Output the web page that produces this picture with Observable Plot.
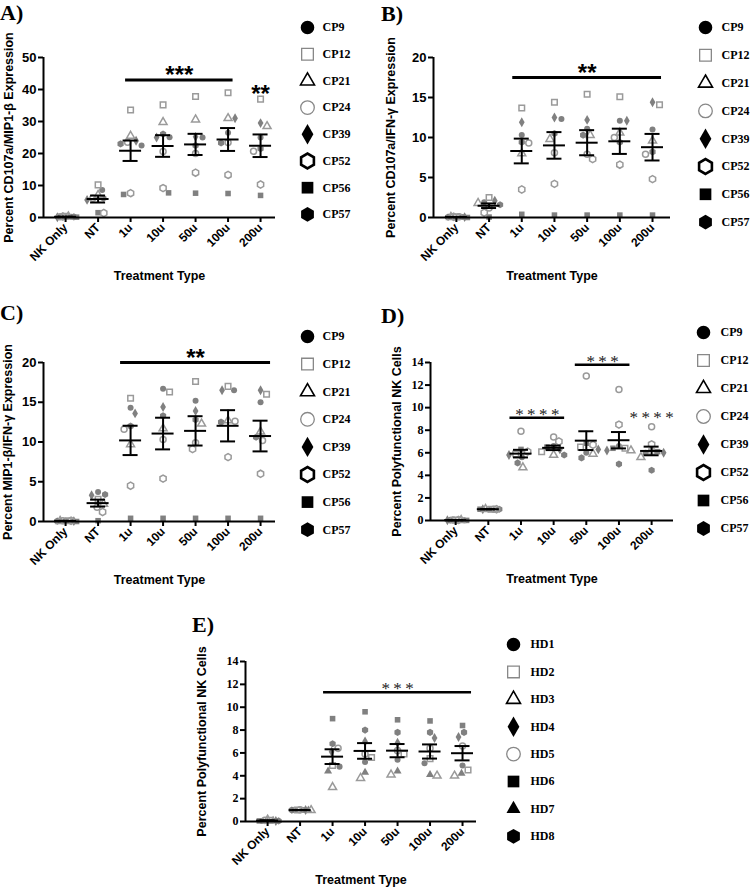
<!DOCTYPE html>
<html><head><meta charset="utf-8">
<script src="https://cdn.jsdelivr.net/npm/d3@7"></script>
<script src="https://cdn.jsdelivr.net/npm/@observablehq/plot@0.6"></script>
<style>
body{margin:0;background:#fff;}
#root{position:relative;width:750px;height:887px;overflow:hidden;background:#fff;}
.plabel{position:absolute;font-family:"Liberation Serif","Times New Roman",serif;font-weight:bold;font-size:22px;line-height:1;color:#000;}
</style></head><body><div id="root"></div>
<script>
// ---------- categories ----------
const treatments = ["NK Only", "NT", "1u", "10u", "50u", "100u", "200u"];
const cpDonors = ["CP9", "CP12", "CP21", "CP24", "CP39", "CP52", "CP56", "CP57"];
const hdDonors = ["HD1", "HD2", "HD3", "HD4", "HD5", "HD6", "HD7", "HD8"];

// ---------- values (rows = treatments, columns = donors) ----------
const cd107aMip1b = [ // panel A
  [0.2, 0.4, 0.3, 0.2, 0.1, 0.3, 0.1, 0.2],
  [8.6, 10.2, 7.0, 6.0, 5.5, 1.4, 1.5, 6.0],
  [22.5, 33.6, 25.5, 23.5, 24.0, 7.6, 7.2, 23.0],
  [25.1, 35.2, 29.8, 20.6, 25.0, 9.2, 7.7, 26.1],
  [25.0, 37.8, 30.6, 20.0, 25.2, 14.0, 7.6, 22.5],
  [26.5, 39.0, 31.0, 23.4, 31.0, 13.3, 7.5, 23.3],
  [25.0, 37.0, 28.5, 20.7, 29.5, 10.3, 6.9, 21.5]
];
const cd107aIfng = [ // panel B
  [0.05, 0.1, 0.05, 0.1, 0.05, 0.1, 0.0, 0.05],
  [1.9, 2.5, 1.8, 1.2, 2.1, 0.6, 0.05, 1.6],
  [10.3, 13.7, 8.0, 9.3, 11.9, 3.5, 0.4, 9.4],
  [12.3, 14.4, 9.8, 8.1, 12.5, 4.2, 0.3, 10.5],
  [11.1, 15.4, 10.3, 7.9, 12.2, 7.3, 0.3, 10.3],
  [12.1, 15.1, 10.6, 10.0, 12.1, 6.6, 0.3, 9.4],
  [11.0, 14.1, 9.6, 7.9, 14.4, 4.8, 0.3, 8.2]
];
const mip1bIfng = [ // panel C
  [0.1, 0.1, 0.05, 0.1, 0.05, 0.1, 0.0, 0.05],
  [3.7, 2.8, 2.2, 1.8, 3.3, 1.2, 0.1, 3.4],
  [14.3, 15.5, 9.7, 11.6, 13.6, 4.5, 0.4, 12.0],
  [16.7, 16.3, 11.7, 10.3, 14.4, 5.4, 0.4, 13.3],
  [15.2, 17.6, 12.3, 9.9, 13.9, 9.1, 0.4, 12.8],
  [16.5, 17.0, 12.7, 12.6, 16.5, 8.1, 0.4, 12.5],
  [15.0, 16.0, 11.3, 10.2, 16.5, 6.0, 0.4, 10.6]
];
const polyCP = [ // panel D
  [0.02, 0.05, 0.03, 0.04, 0.02, 0.05, 0.01, 0.03],
  [1.0, 1.0, 1.0, 1.0, 1.0, 1.0, 1.0, 1.0],
  [5.6, 5.9, 4.7, 7.9, 5.8, 6.1, 6.3, 5.1],
  [6.6, 6.1, 5.8, 7.4, 6.3, 7.0, 6.5, 5.8],
  [6.0, 6.5, 5.9, 12.8, 6.3, 6.7, 6.85, 5.55],
  [6.6, 6.4, 6.2, 11.6, 6.2, 8.5, 6.4, 5.0],
  [6.0, 6.1, 5.6, 8.3, 6.0, 6.75, 6.1, 4.45]
];
const polyHD = [ // panel E
  [0.05, 0.1, 0.15, 0.05, 0.1, 0.05, 0.1, 0.05],
  [1.0, 1.0, 0.98, 1.0, 1.02, 1.0, 1.0, 1.0],
  [4.8, 4.9, 3.0, 6.1, 6.4, 9.0, 4.4, 6.8],
  [5.2, 5.6, 3.8, 7.0, 5.9, 9.6, 4.3, 8.0],
  [5.4, 5.9, 4.1, 6.9, 6.2, 8.9, 4.4, 7.8],
  [5.1, 5.5, 4.0, 7.3, 6.4, 8.8, 4.1, 7.8],
  [4.9, 4.5, 4.0, 7.4, 6.6, 8.4, 4.2, 7.8]
];

// ---------- significance annotations ----------
const sigA = [{from: "1u", to: "100u", y: 43, label: "***", bar: true}, {from: "200u", to: "200u", y: 37, label: "**", bar: false}];
const sigB = [{from: "1u", to: "200u", y: 17.5, label: "**", bar: true}];
const sigC = [{from: "1u", to: "200u", y: 20, label: "**", bar: true}];
const sigD = [{from: "1u", to: "10u", y: 9.1, label: "****", bar: true}, {from: "50u", to: "100u", y: 13.8, label: "***", bar: true}, {from: "200u", to: "200u", y: 8.8, label: "****", bar: false}];
const sigE = [{from: "1u", to: "200u", y: 11.3, label: "***", bar: true}];

// ---------- symbol styles ----------
const cpSymbols = ["circle", "square", "triangle", "circle", "diamond", "hexagon", "square", "hexagon"];
const cpFilled = [true, false, false, false, true, false, true, true];
const cpLegendStroke = ["none", "#888", "#000", "#888", "none", "#000", "none", "none"];
const cpLegendStrokeW = [0, 1.3, 1.6, 1.3, 0, 2.6, 0, 0];
const hdSymbols = ["circle", "square", "triangle", "diamond", "circle", "square", "triangle", "hexagon"];
const hdFilled = [true, false, false, true, false, true, true, true];
const hdLegendStroke = ["none", "#888", "#000", "none", "#888", "none", "none", "none"];
const hdLegendStrokeW = [0, 1.3, 1.6, 0, 1.3, 0, 0, 0];
const legendR = {circle: 6.8, square: 6.6, triangle: 5.2, diamond: 6.2, hexagon: 6.4};
const dotR = {circle: 3.5, square: 3.8, triangle: 3.4, diamond: 3.5, hexagon: 3.7};

const SANS = "'Liberation Sans', Arial, sans-serif";
const SERIF = "'Liberation Serif', 'Times New Roman', serif";

function swarmOffsets(vals, pxPerUnit, dmin, maxSpread) {
  const n = vals.length;
  const order = d3.range(n).sort((a, b) => vals[b] - vals[a] || a - b);
  const placed = [];
  const off = new Array(n).fill(0);
  let flip = 1;
  for (const i of order) {
    const y = vals[i] * pxPerUnit;
    let chosen = 0;
    for (let c = 0; c <= 80; c += 0.5) {
      const cands = c === 0 ? [0] : [flip * c, -flip * c];
      let found = null;
      for (const x of cands) {
        if (placed.every(p => (p.x - x) ** 2 + (p.y - y) ** 2 >= dmin * dmin)) { found = x; break; }
      }
      if (found !== null) { chosen = found; break; }
    }
    if (chosen !== 0) flip = -Math.sign(chosen);
    off[i] = chosen;
    placed.push({x: chosen, y});
  }
  const m = d3.max(off, Math.abs);
  if (m > maxSpread) for (let i = 0; i < n; i++) off[i] *= maxSpread / m;
  return off;
}

const root = document.getElementById("root");
function place(el, left, top) {
  el.style.position = "absolute";
  el.style.left = left + "px";
  el.style.top = top + "px";
  el.style.overflow = "visible";
  root.appendChild(el);
}

function panel(cfg) {
  const plotW = cfg.ax1 - cfg.ax0;
  const step = plotW / (cfg.xDomain[1] - cfg.xDomain[0]);
  const pxPerY = (cfg.y0 - cfg.yTop) / cfg.yMax;
  const points = [];
  treatments.forEach((t, ti) => {
    const vals = cfg.values[ti];
    const offs = swarmOffsets(vals, pxPerY, 7, ti < 2 ? 11 : 12);
    vals.forEach((v, di) => points.push({ti, donor: cfg.donors[di], sym: cfg.symbols[di], value: v, x: ti + offs[di] / step, filled: cfg.filled[di]}));
  });
  const stats = treatments.map((t, ti) => {
    const v = cfg.values[ti];
    const m = d3.mean(v), se = d3.deviation(v) / Math.sqrt(v.length);
    return {ti, m, lo: m - se, hi: m + se};
  });
  const mw = 11 / step, cw = 7.5 / step, ext = cfg.barExt / step;
  const idx = t => treatments.indexOf(t);
  const sig = cfg.sig.map(s => ({...s, x1: idx(s.from) - ext, x2: idx(s.to) + ext, xc: (idx(s.from) + idx(s.to)) / 2}));
  const tickFont = cfg.serifTicks ? {fontFamily: SERIF, fontSize: 12, fontWeight: "bold"} : {fontFamily: SANS, fontSize: 13, fontWeight: "bold"};
  const starFont = cfg.serifStars ? {fontFamily: SERIF, fontSize: 17, fontWeight: "normal", fill: "#222"} : {fontFamily: SANS, fontSize: 24, fontWeight: "bold", fill: "#000"};
  const svg = Plot.plot({
    width: cfg.width, height: cfg.height,
    marginLeft: cfg.ax0 - cfg.left, marginRight: cfg.left + cfg.width - cfg.ax1,
    marginTop: cfg.yTop - cfg.top, marginBottom: cfg.top + cfg.height - cfg.y0,
    x: {domain: cfg.xDomain},
    y: {domain: [0, cfg.yMax]},
    symbol: {domain: cfg.donors, range: cfg.symbols},
    style: {background: "transparent", overflow: "visible", fontFamily: SANS, color: "#000"},
    marks: [
      Plot.dot(points.filter(d => d.filled), {x: "x", y: "value", symbol: "donor", r: d => dotR[d.sym], fill: "#808080", stroke: "none"}),
      Plot.dot(points.filter(d => !d.filled), {x: "x", y: "value", symbol: "donor", r: d => dotR[d.sym], fill: "none", stroke: "#9a9a9a", strokeWidth: 1.5}),
      Plot.ruleY([0], {stroke: "#000", strokeWidth: 2}),
      Plot.ruleX([cfg.xDomain[0]], {y1: 0, y2: cfg.yMax, stroke: "#000", strokeWidth: 2}),
      Plot.axisX({ticks: d3.range(treatments.length), tickFormat: i => treatments[i], tickRotate: -45, tickSize: 5, tickPadding: 3, strokeWidth: 2, label: null, fontFamily: SANS, fontSize: 12, fontWeight: "bold"}),
      Plot.axisY({ticks: cfg.yTicks, tickFormat: d => String(d), tickSize: 5, tickPadding: 2, strokeWidth: 2, label: null, ...tickFont}),
      Plot.ruleY(stats, {y: "m", x1: d => d.ti - mw, x2: d => d.ti + mw, stroke: "#000", strokeWidth: 2}),
      Plot.ruleY(stats, {y: "lo", x1: d => d.ti - cw, x2: d => d.ti + cw, stroke: "#000", strokeWidth: 2}),
      Plot.ruleY(stats, {y: "hi", x1: d => d.ti - cw, x2: d => d.ti + cw, stroke: "#000", strokeWidth: 2}),
      Plot.ruleX(stats, {x: "ti", y1: "lo", y2: "hi", stroke: "#000", strokeWidth: 2}),
      Plot.ruleY(sig.filter(d => d.bar), {y: "y", x1: "x1", x2: "x2", stroke: "#000", strokeWidth: cfg.serifStars ? 2.5 : 3}),
      Plot.text(sig, {x: "xc", y: "y", text: d => cfg.serifStars ? d.label.split("").join("\u2009") : d.label, lineAnchor: "bottom", dy: cfg.starDy, ...starFont}),
      Plot.text([cfg.yLabel], {frameAnchor: "left", dx: cfg.yLabelDx, rotate: -90, textAnchor: "middle", lineAnchor: "middle", fontFamily: SANS, fontSize: 12.5, fontWeight: "bold", fill: "#000"}),
      Plot.text(["Treatment Type"], {frameAnchor: "bottom", dy: 58, textAnchor: "middle", lineAnchor: "middle", fontFamily: SANS, fontSize: 12.5, fontWeight: "bold", fill: "#000"})
    ]
  });
  place(svg, cfg.left, cfg.top);
}

function legend(cfg) {
  const n = cfg.donors.length;
  const pad = 12;
  const left = cfg.x - pad;
  const svg = Plot.plot({
    width: Math.min(75, 750 - left), height: (n - 1) * cfg.gap + 2 * pad, margin: 0,
    x: {domain: [0, 1], range: [pad, pad + 1], axis: null},
    y: {domain: [0, n - 1], range: [pad, pad + (n - 1) * cfg.gap], axis: null},
    symbol: {domain: cfg.donors, range: cfg.symbols},
    style: {background: "transparent", overflow: "visible"},
    marks: [
      ...cfg.donors.map((d, i) => Plot.dot([d], {x: () => 0, y: () => i, symbol: () => d, r: legendR[cfg.symbols[i]],
        fill: cfg.filled[i] ? "#000" : "#fff", stroke: cfg.stroke[i], strokeWidth: cfg.strokeW[i]})),
      Plot.text(cfg.donors, {x: () => 0, y: (d, i) => i, text: d => d, dx: cfg.textDx, textAnchor: "start", lineAnchor: "middle",
        fontFamily: SERIF, fontSize: 12, fontWeight: "bold", fill: "#000"})
    ]
  });
  place(svg, left, cfg.y - pad);
}

const cpBase = {donors: cpDonors, symbols: cpSymbols, filled: cpFilled};
const hdBase = {donors: hdDonors, symbols: hdSymbols, filled: hdFilled};

panel({...cpBase, values: cd107aMip1b, sig: sigA, left: 0, top: 0, width: 290, height: 290, ax0: 43, ax1: 275, yTop: 57, y0: 217,
  yMax: 50, yTicks: [0, 10, 20, 30, 40, 50], xDomain: [-0.68, 6.46], barExt: 5, starDy: 3,
  yLabel: "Percent CD107a/MIP1-β Expression", yLabelDx: -35});
panel({...cpBase, values: cd107aIfng, sig: sigB, left: 380, top: 0, width: 295, height: 290, ax0: 433, ax1: 670, yTop: 57, y0: 217,
  yMax: 20, yTicks: [0, 5, 10, 15, 20], xDomain: [-0.7, 6.55], barExt: 9, starDy: 3,
  yLabel: "Percent CD107a/IFN-γ Expression", yLabelDx: -43});
panel({...cpBase, values: mip1bIfng, sig: sigC, left: 0, top: 300, width: 290, height: 290, ax0: 43, ax1: 275, yTop: 362, y0: 521,
  yMax: 20, yTicks: [0, 5, 10, 15, 20], xDomain: [-0.68, 6.46], barExt: 10, starDy: 3,
  yLabel: "Percent MIP1-β/IFN-γ Expression", yLabelDx: -36});
panel({...cpBase, values: polyCP, sig: sigD, left: 380, top: 300, width: 295, height: 290, ax0: 430, ax1: 673, yTop: 362, y0: 520,
  yMax: 14, yTicks: [0, 2, 4, 6, 8, 10, 12, 14], xDomain: [-0.77, 6.67], barExt: 11, starDy: 2, serifTicks: true, serifStars: true,
  yLabel: "Percent Polyfunctional NK Cells", yLabelDx: -34});
panel({...hdBase, values: polyHD, sig: sigE, left: 180, top: 600, width: 310, height: 287, ax0: 245, ax1: 476, yTop: 661, y0: 821,
  yMax: 14, yTicks: [0, 2, 4, 6, 8, 10, 12, 14], xDomain: [-0.68, 6.43], barExt: 9, starDy: 2, serifTicks: true, serifStars: true,
  yLabel: "Percent Polyfunctional NK Cells", yLabelDx: -44});

legend({donors: cpDonors, symbols: cpSymbols, filled: cpFilled, stroke: cpLegendStroke, strokeW: cpLegendStrokeW, x: 307, y: 27, gap: 26.7, textDx: 15});
legend({donors: cpDonors, symbols: cpSymbols, filled: cpFilled, stroke: cpLegendStroke, strokeW: cpLegendStrokeW, x: 705, y: 27, gap: 27.8, textDx: 16});
legend({donors: cpDonors, symbols: cpSymbols, filled: cpFilled, stroke: cpLegendStroke, strokeW: cpLegendStrokeW, x: 307, y: 336, gap: 27.6, textDx: 15});
legend({donors: cpDonors, symbols: cpSymbols, filled: cpFilled, stroke: cpLegendStroke, strokeW: cpLegendStrokeW, x: 703, y: 332, gap: 28, textDx: 17});
legend({donors: hdDonors, symbols: hdSymbols, filled: hdFilled, stroke: hdLegendStroke, strokeW: hdLegendStrokeW, x: 513, y: 644, gap: 27.4, textDx: 17});

[["A)", 0, 2], ["B)", 381, 3], ["C)", 0, 302], ["D)", 381, 305], ["E)", 192, 614]].forEach(([t, x, y]) => {
  const d = document.createElement("div");
  d.className = "plabel";
  d.textContent = t;
  d.style.left = x + "px";
  d.style.top = y + "px";
  root.appendChild(d);
});
</script></body></html>
